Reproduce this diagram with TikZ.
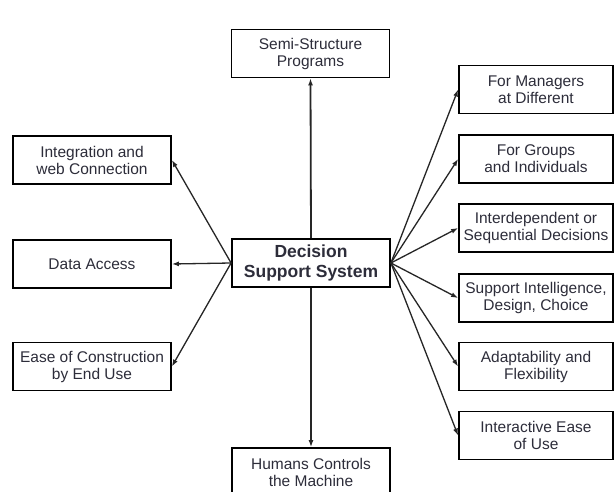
\documentclass[tikz,border=0pt]{standalone}
\usepackage{fontspec}
\setmainfont{Liberation Sans}
\usetikzlibrary{arrows.meta}
\definecolor{txt}{RGB}{45,45,58}
\tikzset{
  box/.style={draw=black, line width=1.8pt, fill=white, align=center, text=txt,
    minimum height=48pt, inner sep=0pt,
    font=\fontsize{15.5}{17}\selectfont},
  lbox/.style={box, minimum width=158pt},
  rbox/.style={box, minimum width=154pt},
  cbox/.style={box, minimum width=158pt},
  mainbox/.style={box, minimum width=158pt, font=\bfseries\fontsize{17.5}{20}\selectfont},
  conn/.style={draw=black!85, line width=1.3pt, -{Latex[length=7pt,width=5pt]}},
  vconn/.style={conn, line width=1.8pt},
}
\begin{document}
\begin{tikzpicture}[x=1pt,y=-1pt]
\path[use as bounding box, fill=white] (0,0) rectangle (614,492);
\begin{scope}
\clip (0,0) rectangle (614,492);
\node[mainbox] (dss) at (311,263) {Decision\\Support System};
\node[cbox] (semi) at (310.5,53.5) {Semi-Structure\\Programs};
\node[cbox] (hum) at (311,472) {Humans Controls\\the Machine};
\node[lbox] (integ) at (92,160) {Integration and\\web Connection};
\node[lbox] (data) at (92,264) {Data Access};
\node[lbox] (ease) at (92,366.5) {Ease of Construction\\by End Use};
\node[rbox] (man) at (536,89.5) {For Managers\\at Different};
\node[rbox] (grp) at (536,159) {For Groups\\and Individuals};
\node[rbox] (intd) at (536,228) {Interdependent or\\Sequential Decisions};
\node[rbox] (sup) at (536,298) {Support Intelligence,\\Design, Choice};
\node[rbox] (adp) at (536,366.5) {Adaptability and\\Flexibility};
\node[rbox] (iea) at (536,435.5) {Interactive Ease\\of Use};
\draw[vconn] (dss.north) -- (semi.south);
\draw[vconn] (dss.south) -- (hum.north);
\draw[conn] (dss.west) -- (integ.east);
\draw[conn] (dss.west) -- (data.east);
\draw[conn] (dss.west) -- (ease.east);
\draw[conn] (dss.east) -- (man.west);
\draw[conn] (dss.east) -- (grp.west);
\draw[conn] (dss.east) -- (intd.west);
\draw[conn] (dss.east) -- (sup.west);
\draw[conn] (dss.east) -- (adp.west);
\draw[conn] (dss.east) -- (iea.west);
\end{scope}
\end{tikzpicture}
\end{document}
